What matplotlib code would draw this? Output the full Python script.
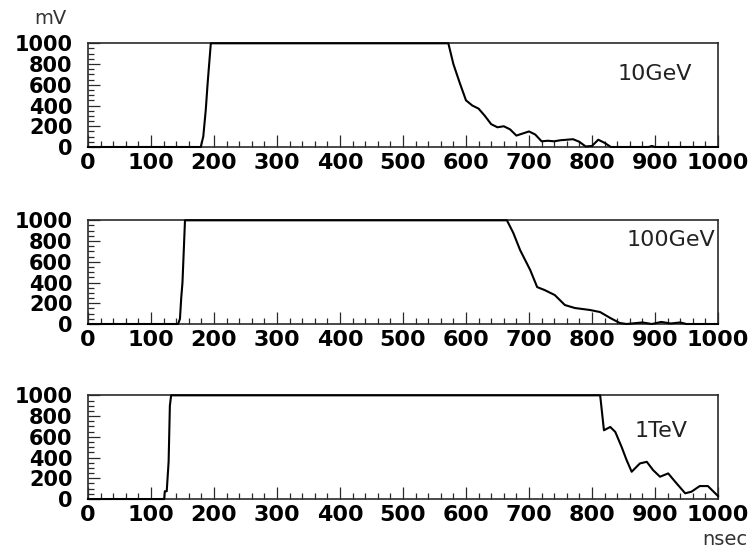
import numpy as np
import matplotlib
matplotlib.use("Agg")
import matplotlib.pyplot as plt
from matplotlib.ticker import MultipleLocator

# pulse traces, time in nsec, amplitude in mV (saturated at 1000)
t_10gev = [0, 179, 183, 187, 190, 195, 572, 580, 590, 600, 610, 620, 630, 640, 650,
           660, 670, 680, 690, 700, 710, 720, 730, 740, 750, 760, 770, 780, 790,
           800, 810, 820, 830, 890, 895, 900, 1000]
v_10gev = [0, 0, 100, 360, 620, 1000, 1000, 800, 620, 450, 400, 370, 300, 220, 190,
           200, 170, 110, 130, 150, 120, 55, 60, 55, 65, 70, 75, 50, 5,
           10, 70, 40, 0, 0, 10, 0, 0]

t_100gev = [0, 143, 146, 148, 150, 152, 154, 665, 675, 686, 702, 713, 725, 741, 757,
            773, 797, 813, 829, 844, 855, 880, 895, 910, 925, 940, 950, 1000]
v_100gev = [0, 0, 50, 250, 400, 700, 1000, 1000, 880, 712, 520, 356, 327, 279, 183,
            154, 135, 115, 58, 10, 0, 15, 0, 20, 5, 15, 0, 0]

t_1tev = [0, 121, 122, 125, 128, 130, 132, 813, 819, 829, 837, 847, 855, 863, 876,
          887, 897, 908, 921, 932, 948, 958, 971, 984, 1000]
v_1tev = [0, 0, 75, 75, 360, 900, 1000, 1000, 663, 695, 647, 503, 375, 263, 343,
          359, 279, 215, 247, 167, 55, 71, 125, 125, 29]

labels = ["10GeV", "100GeV", "1TeV"]
traces = [(t_10gev, v_10gev), (t_100gev, v_100gev), (t_1tev, v_1tev)]
label_pos = [(0.90, 0.70), (0.925, 0.81), (0.91, 0.66)]

fig = plt.figure(figsize=(7.5, 5.53), dpi=100)
bottoms = [0.7342, 0.4141, 0.0976]
frame = "#2a2a2a"

for (t, v), lab, (lx, ly), b in zip(traces, labels, label_pos, bottoms):
    ax = fig.add_axes([0.1173, b, 0.84, 0.1875])
    ax.plot(t, v, color="black", lw=1.5, clip_on=False, zorder=3)
    ax.set_xlim(0, 1000)
    ax.set_ylim(0, 1000)
    ax.xaxis.set_major_locator(MultipleLocator(100))
    ax.xaxis.set_minor_locator(MultipleLocator(20))
    ax.yaxis.set_major_locator(MultipleLocator(200))
    ax.yaxis.set_minor_locator(MultipleLocator(50))
    ax.tick_params(which="both", direction="in", color=frame, width=0.9,
                   top=False, right=False)
    ax.tick_params(which="major", length=8.5)
    ax.tick_params(which="minor", length=4.5)
    ax.tick_params(axis="x", which="major", pad=4)
    ax.tick_params(axis="y", which="major", pad=11)
    for lbl in ax.get_xticklabels():
        lbl.set_fontsize(16)
        lbl.set_fontweight("bold")
    for lbl in ax.get_yticklabels():
        lbl.set_fontsize(15)
        lbl.set_fontweight("bold")
    for sp in ax.spines.values():
        sp.set_color(frame)
        sp.set_linewidth(1.2)
    ax.text(lx, ly, lab, transform=ax.transAxes, fontsize=16, color="#222222",
            ha="center", va="center")

fig.text(0.046, 0.966, "mV", fontsize=14, color="#333333", va="center")
fig.text(0.997, 0.024, "nsec", fontsize=14, color="#333333", ha="right", va="center")

fig.savefig("out.png", dpi=100)
